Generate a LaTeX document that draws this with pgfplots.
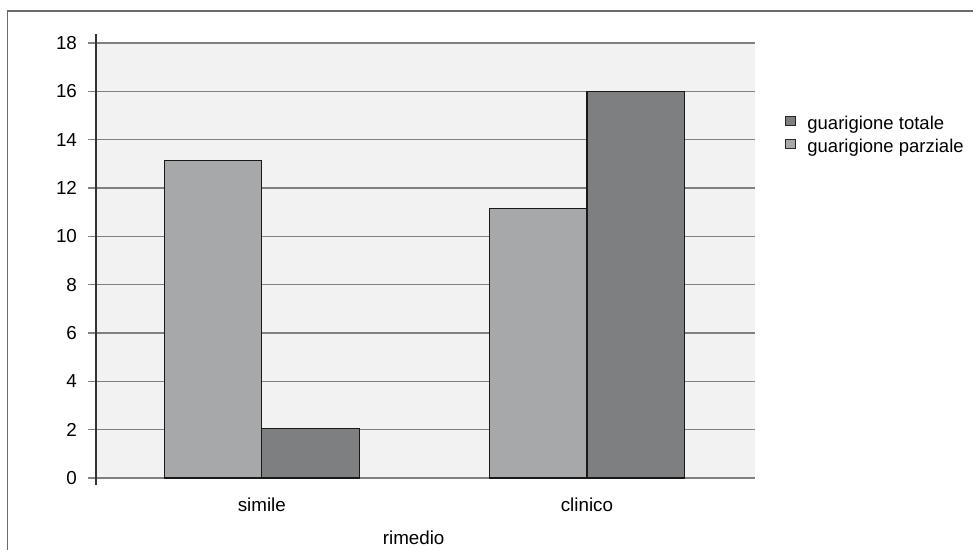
\documentclass[border=0pt]{standalone}
\usepackage{pgfplots}
\pgfplotsset{compat=1.18}
\usepackage{fontspec}
\setmainfont{Liberation Sans}
\definecolor{bgc}{HTML}{F2F2F2}
\definecolor{gridc}{HTML}{808080}
\definecolor{lightbar}{HTML}{A7A8AA}
\definecolor{darkbar}{HTML}{7E7F81}
\definecolor{framec}{HTML}{6A6A6A}
\begin{document}
\begin{tikzpicture}
\useasboundingbox (0,0) rectangle (486.5pt,275pt);
\draw[framec, line width=0.65pt] (3.75pt,0pt) -- (3.75pt,269.5pt) -- (486.5pt,269.5pt);
\begin{axis}[
  at={(48pt,36pt)}, anchor=south west,
  scale only axis, width=329.5pt, height=217.5pt,
  xmin=-0.51, xmax=1.517, ymin=0, ymax=18,
  ybar=0pt, bar width=0.3,
  xtick={0,1}, xticklabels={simile,clinico},
  ytick={0,2,...,18},
  ytick pos=left,
  major x tick style={draw=none}, major tick length=4pt,
  y tick style={draw=gridc, line width=0.65pt},
  tick align=outside,
  axis background/.style={fill=bgc},
  axis line style={draw=none},
  ymajorgrids, grid style={draw=gridc, line width=0.65pt},
  /pgf/number format/assume math mode=true,
  ticklabel style={font=\fontsize{9.4}{11}\selectfont},
  xticklabel style={anchor=center, yshift=-9.5pt},
  yticklabel style={xshift=-2pt},
  xlabel={rimedio},
  xlabel style={font=\fontsize{9.4}{11}\selectfont, at={(axis description cs:0.482,0)}, anchor=center, yshift=-30pt},
  clip=false,
  reverse legend,
  legend cell align=left,
  legend image code/.code={\draw[#1, draw=black!85, line width=0.5pt] (0pt,-0.5pt) rectangle (5pt,4pt);},
  legend style={draw=none, fill=none, inner sep=0pt, at={(axis description cs:1.0455,0.833)}, anchor=north west,
    font=\fontsize{9.25}{11}\selectfont, row sep=3pt,
    nodes={inner sep=0pt},
    /tikz/every odd column/.append style={column sep=5.5pt}},
]
\addplot[fill=lightbar, draw=black!90, line width=0.6pt] coordinates {(0,13.15) (1,11.15)};
\addplot[fill=darkbar, draw=black!90, line width=0.6pt] coordinates {(0,2.05) (1,16.0)};
\legend{guarigione parziale, guarigione totale}
\draw[black!80, line width=0.6pt] (rel axis cs:0,-0.016) -- (rel axis cs:0,1.02);
\end{axis}
\end{tikzpicture}
\end{document}
